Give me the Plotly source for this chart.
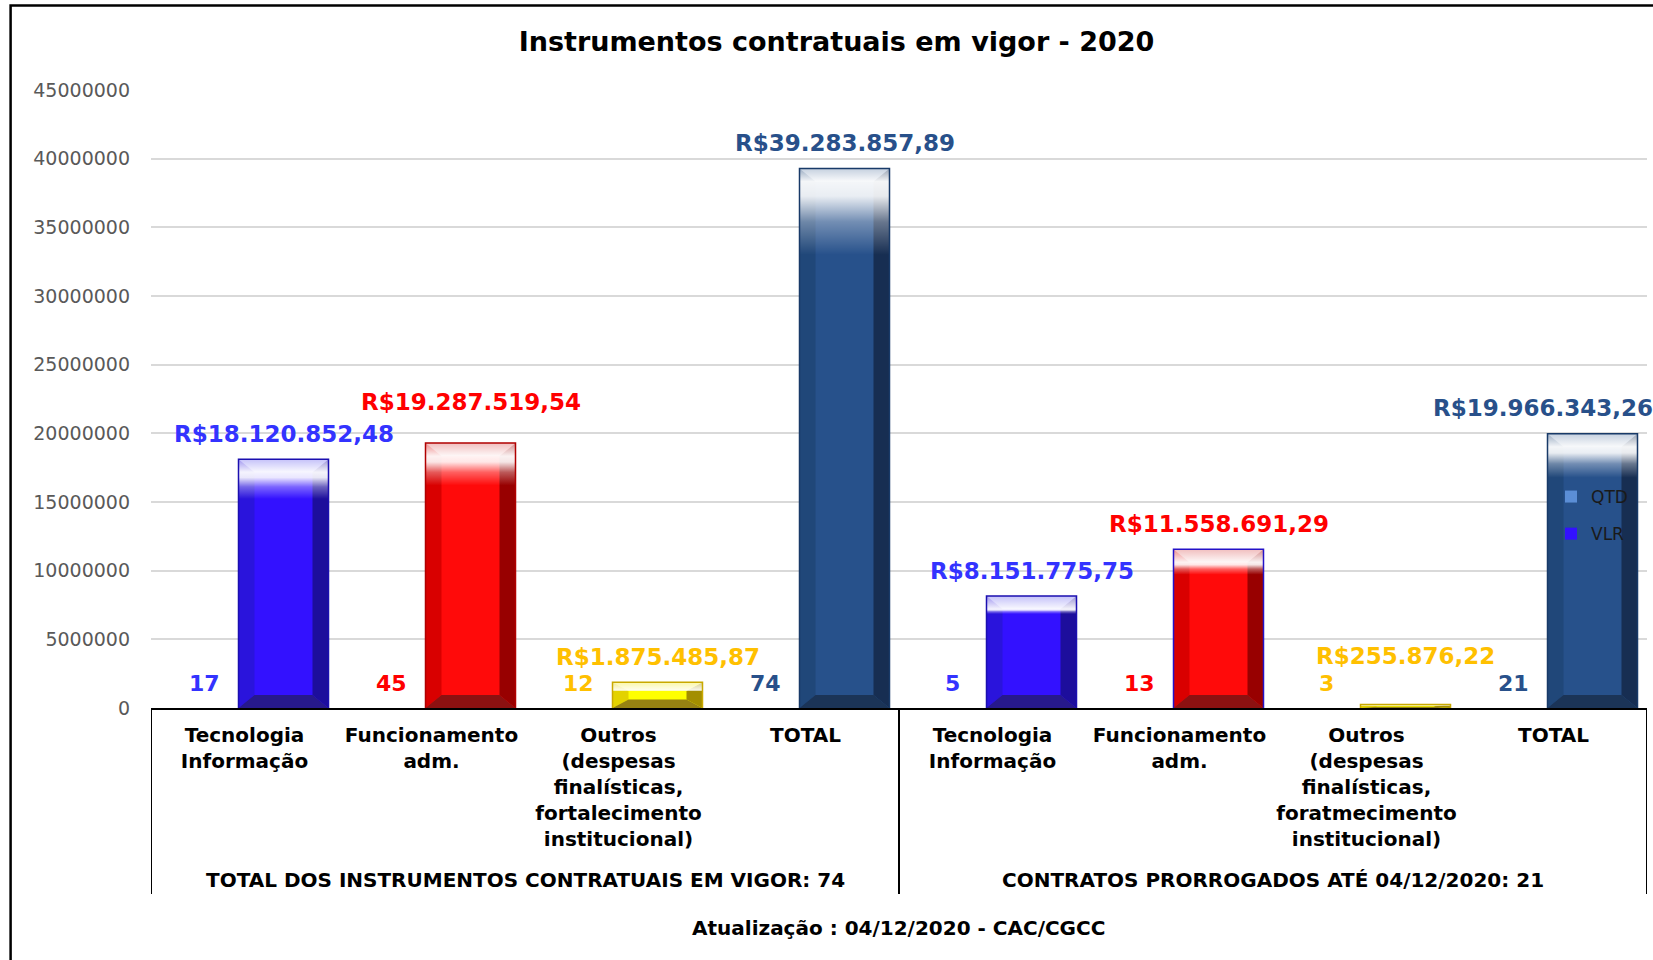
import plotly.graph_objects as go

# ---------------- data ----------------
TITLE = "Instrumentos contratuais em vigor - 2020"
FOOTER = "Atualização : 04/12/2020 - CAC/CGCC"
GROUPS = ["TOTAL DOS INSTRUMENTOS CONTRATUAIS EM VIGOR: 74",
          "CONTRATOS PRORROGADOS ATÉ 04/12/2020: 21"]
CATEGORY_GROUP = [0, 0, 0, 0, 1, 1, 1, 1]
CATEGORIES = [
    "Tecnologia<br>Informação",
    "Funcionamento<br>adm.",
    "Outros<br>(despesas<br>finalísticas,<br>fortalecimento<br>institucional)",
    "TOTAL",
    "Tecnologia<br>Informação",
    "Funcionamento<br>adm.",
    "Outros<br>(despesas<br>finalísticas,<br>foratmecimento<br>institucional)",
    "TOTAL",
]
SERIES = ["QTD", "VLR"]
QTD = [17, 45, 12, 74, 5, 13, 3, 21]
VLR = [18120852.48, 19287519.54, 1875485.87, 39283857.89,
       8151775.75, 11558691.29, 255876.22, 19966343.26]
VLR_LABELS = ["R$18.120.852,48", "R$19.287.519,54", "R$1.875.485,87", "R$39.283.857,89",
              "R$8.151.775,75", "R$11.558.691,29", "R$255.876,22", "R$19.966.343,26"]
Y_TICKS = [0, 5000000, 10000000, 15000000, 20000000, 25000000,
           30000000, 35000000, 40000000, 45000000]

# ---------------- layout / style ----------------
FONT = "DejaVu Sans"
W, H = 1653, 960
ML, MR, MT, MB = 151, 6, 90, 252
PW, PH = W - ML - MR, H - MT - MB
N = len(CATEGORIES)
X = list(range(N))
YMAX = Y_TICKS[-1]
PXC = PW / N          # pixels per category
PXV = PH / YMAX       # pixels per value unit


def c(px):
    return px / PXC


def v(px):
    return px / PXV


STYLE = [i % 4 for i in X]
PAL = [
    dict(face="#3311ff", left="#2a14dc", right="#1d0e9c", bottom="#27198c", top="#7d76f2",
         edge="#1b0fb0", text="#3333ff"),
    dict(face="#ff0a0a", left="#d90000", right="#980000", bottom="#8c1111", top="#e07070",
         edge="#b00000", text="#ff0000"),
    dict(face="#ffff00", left="#e3d200", right="#a38e00", bottom="#968212", top="#f6ef40",
         edge="#c9a900", text="#ffc000"),
    dict(face="#27518b", left="#204779", right="#172e52", bottom="#1b3457", top="#7f97b8",
         edge="#183a68", text="#28508a"),
]
EDGE_OVERRIDE = {5: "#2412c8"}
LABEL_DY = [25, 41, 25, 26, 25, 25, 48, 26]
LABEL_DX = [0, 0, 0, 0, 0, 0, 0, -50]
QTD_DY = 25
GLOSS_FRAC = 0.16

BAR_W = c(90)
BAR_OFF = c(-6)
BEV = c(16)
QTD_C = c(-40)

col = lambda key: [PAL[s][key] for s in STYLE]
hpx = [val * PXV for val in VLR]
tpx = [min(13, hh / 3) for hh in hpx]
tb = [v(t) for t in tpx]
bb = [v(t) for t in tpx]
gl = [v(max(GLOSS_FRAC * hpx[i] - tpx[i], 0)) for i in X]

fig = go.Figure()

# QTD series (values far below the axis resolution -> invisible, label + legend only)
fig.add_trace(go.Bar(name=SERIES[0], x=X, y=QTD, offset=QTD_C - BAR_W / 2, width=BAR_W,
                     marker=dict(color="#5b8ed6", line=dict(width=0)),
                     legendgroup="q", hoverinfo="skip"))
# VLR series: main bar face
fig.add_trace(go.Bar(name=SERIES[1], x=X, y=VLR, offset=BAR_OFF, width=BAR_W,
                     marker=dict(color=col("face"), line=dict(width=0)),
                     legendgroup="v", hoverinfo="skip"))


def poly_trace(xs, ys, color):
    fig.add_trace(go.Scatter(x=xs, y=ys, mode="none", fill="toself", fillcolor=color,
                             showlegend=False, hoverinfo="skip"))


# bevel facets, grouped by colour style
for s in range(4):
    idx = [i for i in X if STYLE[i] == s]
    parts = {"left": ([], []), "right": ([], []), "top": ([], []), "bottom": ([], [])}
    for i in idx:
        x0 = i + BAR_OFF
        x1 = x0 + BAR_W
        h, t, b = VLR[i], tb[i], bb[i]
        facets = {
            "left": [(x0, 0), (x0 + BEV, b), (x0 + BEV, h - t), (x0, h)],
            "right": [(x1, 0), (x1 - BEV, b), (x1 - BEV, h - t), (x1, h)],
            "top": [(x0, h), (x1, h), (x1 - BEV, h - t), (x0 + BEV, h - t)],
            "bottom": [(x0, 0), (x1, 0), (x1 - BEV, b), (x0 + BEV, b)],
        }
        for k, pts in facets.items():
            pts = pts + [pts[0]]
            parts[k][0].extend([p[0] for p in pts] + [None])
            parts[k][1].extend([p[1] for p in pts] + [None])
    for k in ("left", "right", "bottom", "top"):
        poly_trace(parts[k][0], parts[k][1], PAL[s][k])

# glossy highlight at the top of each bar
for i in X:
    x0 = i + BAR_OFF
    x1 = x0 + BAR_W
    h, t, g = VLR[i], tb[i], gl[i]
    if t + g <= 0:
        continue
    pb = g / (t + g)
    cs = [[0, "rgba(255,255,255,0)"],
          [pb * 0.45, "rgba(255,255,255,0.35)"],
          [pb * 0.8, "rgba(255,255,255,0.9)"],
          [pb, "rgba(255,255,255,0.95)"],
          [1, "rgba(255,255,255,0.55)"]]
    fig.add_trace(go.Scatter(x=[x0, x1, x1, x0, x0], y=[h - t - g, h - t - g, h, h, h - t - g],
                             mode="none", fill="toself",
                             fillgradient=dict(type="vertical", colorscale=cs),
                             showlegend=False, hoverinfo="skip"))

# outlines
edges = [EDGE_OVERRIDE.get(i, PAL[STYLE[i]]["edge"]) for i in X]
for ec in sorted(set(edges)):
    xs, ys = [], []
    for i in X:
        if edges[i] != ec:
            continue
        x0 = i + BAR_OFF
        x1 = x0 + BAR_W
        xs += [x0, x0, x1, x1, None]
        ys += [0, VLR[i], VLR[i], 0, None]
    fig.add_trace(go.Scatter(x=xs, y=ys, mode="lines", line=dict(color=ec, width=1.5),
                             showlegend=False, hoverinfo="skip"))

ann = []
for i in X:
    ann.append(dict(x=i + BAR_OFF + BAR_W / 2, y=VLR[i], xref="x", yref="y",
                    text=VLR_LABELS[i], showarrow=False, yanchor="middle",
                    xshift=LABEL_DX[i], yshift=LABEL_DY[i],
                    font=dict(size=23, weight="bold", color=PAL[STYLE[i]]["text"], family=FONT)))
    ann.append(dict(x=i + QTD_C, y=0, xref="x", yref="y", text=str(QTD[i]), showarrow=False,
                    yanchor="middle", yshift=QTD_DY,
                    font=dict(size=22, weight="bold", color=PAL[STYLE[i]]["text"], family=FONT)))

shapes = []
bounds = [-0.5]
for g in range(len(GROUPS)):
    idx = [i for i in X if CATEGORY_GROUP[i] == g]
    ann.append(dict(x=sum(idx) / len(idx), y=(708 - 880) / PH, xref="x", yref="paper",
                    text=GROUPS[g], showarrow=False, yanchor="middle",
                    font=dict(size=20, weight="bold", color="#000", family=FONT)))
    bounds.append(max(idx) + 0.5)
for b in bounds:
    shapes.append(dict(type="line", xref="x", yref="paper", x0=b, x1=b, y0=0,
                       y1=(708 - 894) / PH, line=dict(color="#000", width=2)))

ann.append(dict(x=(898 - ML) / PW, y=(708 - 928) / PH, xref="paper", yref="paper",
                text=FOOTER, showarrow=False, yanchor="middle",
                font=dict(size=20, weight="bold", color="#000", family=FONT)))

shapes.append(dict(type="rect", xref="paper", yref="paper",
                   x0=(10.6 - ML) / PW, x1=1.1, y0=-0.6, y1=(708 - 5.5) / PH,
                   line=dict(color="#000", width=2.5), fillcolor="rgba(0,0,0,0)"))

fig.update_layout(
    width=W, height=H,
    margin=dict(l=ML, r=MR, t=MT, b=MB, autoexpand=False),
    paper_bgcolor="white", plot_bgcolor="white",
    barmode="overlay",
    font=dict(family=FONT, color="#000"),
    title=dict(text=TITLE, x=(836.5 - ML) / PW, xref="paper", xanchor="center",
               y=1 - 42 / H, yref="container", yanchor="middle",
               font=dict(size=27, weight="bold", color="#000", family=FONT)),
    showlegend=True,
    legend=dict(x=(1551 - ML) / PW, y=(708 - 479) / PH, xanchor="left", yanchor="top",
                bgcolor="rgba(0,0,0,0)", font=dict(size=17, color="#1a1a1a", family=FONT),
                traceorder="grouped", tracegroupgap=12),
    xaxis=dict(range=[-0.5, N - 0.5], tickmode="array", tickvals=X, ticktext=CATEGORIES,
               showgrid=False, zeroline=False, showline=True, linecolor="#000", linewidth=2,
               ticks="", tickfont=dict(size=20, weight="bold", color="#000", family=FONT),
               ticklabelstandoff=8, automargin=False, fixedrange=True),
    yaxis=dict(range=[0, YMAX], tickmode="array", tickvals=Y_TICKS,
               ticktext=[str(t) for t in Y_TICKS],
               showgrid=True, gridcolor="#d9d9d9", gridwidth=2, zeroline=False, showline=False,
               ticks="", tickfont=dict(size=19, color="#595959", family=FONT),
               ticklabelstandoff=20, automargin=False, fixedrange=True),
    annotations=ann,
    shapes=shapes,
)

fig.write_html("out.html", config={"displayModeBar": False},
               post_script="document.body.style.margin='0';")
